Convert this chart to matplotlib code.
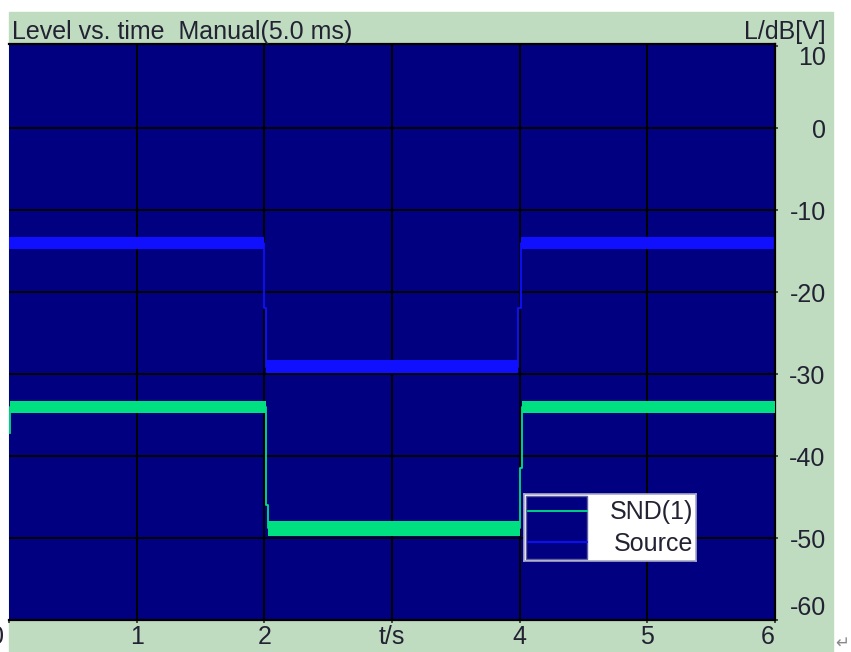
import matplotlib.pyplot as plt
from matplotlib.patches import Rectangle
from matplotlib.transforms import ScaledTranslation

# values
x_ticks = [0, 1, 2, 3, 4, 5, 6]
x_labels = ['0', '1', '2', 't/s', '4', '5', '6']
y_ticks = [10, 0, -10, -20, -30, -40, -50, -60]

# Source: centre line of the level trace (dB)
src_t = [0.00, 2.00, 2.00, 2.015, 2.015, 3.99, 3.99, 4.01, 4.01, 6.00]
src_db = [-14.0, -14.0, -22.0, -22.0, -29.1, -29.1, -22.0, -22.0, -14.0, -14.0]
# Source: noise band of each plateau
src_t0 = [0.00, 2.015, 4.01]
src_t1 = [2.00, 3.99, 6.00]
src_lo = [-14.8, -29.9, -14.8]
src_hi = [-13.3, -28.3, -13.3]

# SND(1): centre line
snd_t = [0.008, 0.008, 2.01, 2.01, 2.025, 2.025, 4.00, 4.00, 4.02, 4.02, 6.00]
snd_db = [-37.2, -34.0, -34.0, -46.0, -46.0, -48.8, -48.8, -41.5, -41.5, -34.0, -34.0]
# SND(1): noise band of each plateau
snd_t0 = [0.008, 2.025, 4.02]
snd_t1 = [2.01, 4.00, 6.00]
snd_lo = [-34.8, -49.7, -34.8]
snd_hi = [-33.3, -47.9, -33.3]

W, H = 851, 652
PANEL = '#C0DCC0'
NAVY = '#000080'
GREEN = '#00E080'
BLUE = '#1010FF'
TXT = '#222233'
FONT = ['Liberation Sans', 'DejaVu Sans']
FS = 18

plt.rcParams['font.family'] = FONT

fig = plt.figure(figsize=(W / 100, H / 100), dpi=100)
fig.patch.set_facecolor('white')

# light green panel behind everything
bg = fig.add_axes([0, 0, 1, 1], zorder=-1)
bg.set_xlim(0, W)
bg.set_ylim(H, 0)
bg.axis('off')
bg.add_patch(Rectangle((9, 12), 833 - 9, H - 12, color=PANEL))

ax = fig.add_axes([9 / W, (H - 620) / H, 766 / W, 576 / H], zorder=1)
ax.set_facecolor(NAVY)
ax.set_xlim(0, 6)
ax.set_ylim(-60, 10.25)

for x in x_ticks[1:-1]:
    ax.axvline(x, color='black', lw=1.4, zorder=1)
for y in y_ticks[1:-1]:
    ax.axhline(y, color='black', lw=1.4, zorder=1)

for t0, t1, lo, hi in zip(src_t0, src_t1, src_lo, src_hi):
    ax.fill_between([t0, t1], lo, hi, color=BLUE, lw=0, zorder=2)
ax.plot(src_t, src_db, color=BLUE, lw=1.3, zorder=2)

for t0, t1, lo, hi in zip(snd_t0, snd_t1, snd_lo, snd_hi):
    ax.fill_between([t0, t1], lo, hi, color=GREEN, lw=0, zorder=3)
ax.plot(snd_t, snd_db, color=GREEN, lw=1.3, zorder=3)

for side in ['top', 'right', 'bottom']:
    ax.spines[side].set_color('black')
    ax.spines[side].set_linewidth(1.6)
ax.spines['left'].set_visible(False)

ax.set_xticks(x_ticks)
ax.set_xticklabels(x_labels, fontsize=FS, color=TXT)
ax.yaxis.tick_right()
ax.set_yticks(y_ticks)
ax.set_yticklabels([str(v) for v in y_ticks], fontsize=FS, color=TXT)
ax.tick_params(axis='x', length=2.5, width=1.2, color='#333333', pad=1)
ax.tick_params(axis='y', length=2.5, width=1.2, color='#333333', pad=34)
for lab in ax.get_yticklabels():
    lab.set_ha('right')
ylabs = ax.get_yticklabels()
ylabs[0].set_va('top')
ylabs[-1].set_va('bottom')
xlabs = ax.get_xticklabels()
xlabs[0].set_ha('right')
xlabs[0].set_transform(xlabs[0].get_transform() + ScaledTranslation(-5 / 100, 0, fig.dpi_scale_trans))
xlabs[-1].set_ha('right')

fig.text(12 / W, 1 - 32 / H, 'Level vs. time  Manual(5.0 ms)', fontsize=FS,
         color=TXT, ha='left', va='center')
fig.text(826 / W, 1 - 32 / H, 'L/dB[V]', fontsize=FS, color=TXT,
         ha='right', va='center')
fig.text(842 / W, 1 - 643 / H, '\u21b5', fontsize=12, color='#888888',
         ha='center', va='center', family='DejaVu Sans')

# legend box
lax = fig.add_axes([524 / W, (H - 561) / H, 172 / W, 67 / H], zorder=2)
lax.set_xlim(0, 172)
lax.set_ylim(67, 0)
lax.set_xticks([])
lax.set_yticks([])
lax.set_facecolor('white')
for s in lax.spines.values():
    s.set_color('#A8A8C8')
    s.set_linewidth(1.2)
lax.add_patch(Rectangle((2, 2), 61, 63, facecolor=NAVY, edgecolor='#6060A0', lw=1))
lax.plot([4, 63], [17, 17], color=GREEN, lw=1.3)
lax.plot([4, 63], [48, 48], color=BLUE, lw=1.3)
lax.text(169, 18, 'SND(1)', fontsize=FS, color=TXT, ha='right', va='center')
lax.text(169, 50, 'Source', fontsize=FS, color=TXT, ha='right', va='center')

fig.savefig('out.png', dpi=100)
